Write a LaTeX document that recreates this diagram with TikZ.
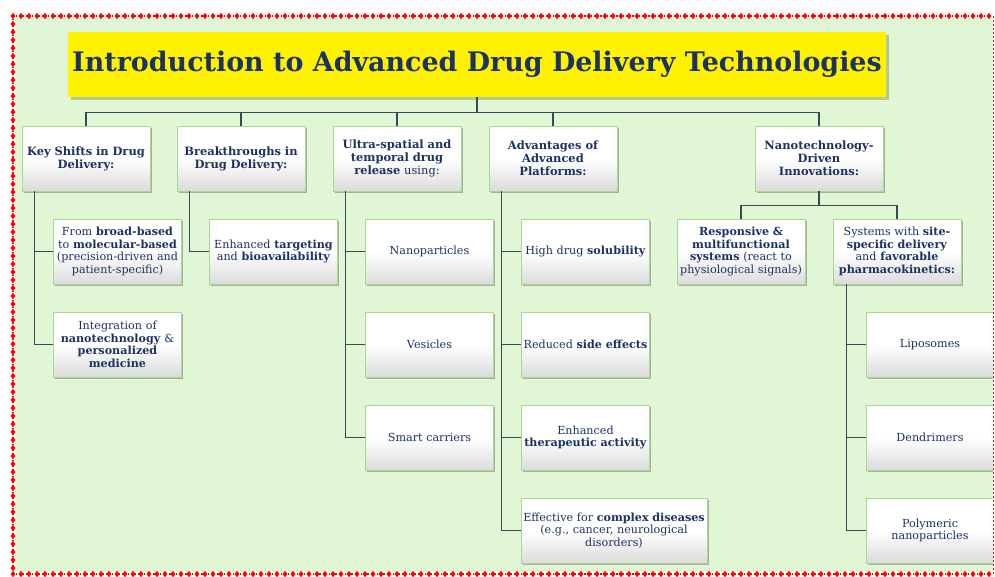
\documentclass[tikz,border=0pt]{standalone}
\usepackage{fontspec}
\setmainfont{DejaVu Serif}
\usetikzlibrary{shapes.geometric,shadows}
\definecolor{inkblue}{HTML}{1B3263}
\definecolor{leafgreen}{HTML}{E0F6D5}
\definecolor{edgegreen}{HTML}{A9D88F}
\definecolor{linkgray}{HTML}{34495A}
\definecolor{shadegreen}{HTML}{8A9A5B}
\tikzset{
  box/.style={draw=edgegreen,line width=0.6bp,top color=white,bottom color=black!14,middle color=white,
    minimum height=65bp,text width=124bp,align=center,inner sep=2bp,
    text=inkblue,font=\fontsize{11.2}{12.7}\selectfont,
    drop shadow={shadow xshift=1.5bp,shadow yshift=-1.5bp,fill=black!50,opacity=0.6}},
  widebox/.style={box,text width=182bp},
  head/.style={box,font=\bfseries\fontsize{11.5}{13}\selectfont},
  titlebox/.style={fill=yellow,minimum width=818bp,minimum height=65bp,text=inkblue,
    font=\bfseries\fontsize{27}{30}\selectfont,
    drop shadow={shadow xshift=2.5bp,shadow yshift=-2.5bp,fill=shadegreen}},
  link/.style={draw=linkgray,line width=1.1bp},
  diam/.style={diamond,fill=red,inner sep=0pt,minimum width=5bp,minimum height=6.5bp}
}
\begin{document}
\begin{tikzpicture}
\useasboundingbox (0,0) rectangle (995bp,-577bp);
\fill[white] (0,0) rectangle (995bp,-577bp);
\fill[leafgreen] (15bp,-18bp) rectangle (993bp,-572bp);

\node (title) at (477bp,-64.5bp)[titlebox] {Introduction to Advanced Drug Delivery Technologies};

\node (ks) at (86bp,-158.5bp)[head] {Key Shifts in Drug\\Delivery:};
\node (bt) at (241bp,-158.5bp)[head] {Breakthroughs in\\Drug Delivery:};
\node (us) at (397bp,-158.5bp)[head] {Ultra-spatial and\\temporal drug\\release \mdseries using:};
\node (ap) at (553bp,-158.5bp)[head] {Advantages of\\Advanced\\Platforms:};
\node (nt) at (819bp,-158.5bp)[head] {Nanotechnology-\\Driven\\Innovations:};

\node (ks1) at (117.5bp,-251.5bp)[box] {From \textbf{broad-based}\\to \textbf{molecular-based}\\(precision-driven and\\patient-specific)};
\node (ks2) at (117.5bp,-344.5bp)[box] {Integration of\\\textbf{nanotechnology} \&\\\textbf{personalized}\\\textbf{medicine}};

\node (bt1) at (273.5bp,-251.5bp)[box] {Enhanced \textbf{targeting}\\and \textbf{bioavailability}};

\node (us1) at (429.5bp,-251.5bp)[box] {Nanoparticles};
\node (us2) at (429.5bp,-344.5bp)[box] {Vesicles};
\node (us3) at (429.5bp,-437.5bp)[box] {Smart carriers};

\node (ap1) at (585.5bp,-251.5bp)[box] {High drug \textbf{solubility}};
\node (ap2) at (585.5bp,-344.5bp)[box] {Reduced \textbf{side effects}};
\node (ap3) at (585.5bp,-437.5bp)[box] {Enhanced\\\textbf{therapeutic activity}};
\node (ap4) at (614bp,-530.5bp)[widebox] {Effective for \textbf{complex diseases}\\(e.g., cancer, neurological\\disorders)};

\node (rs) at (741bp,-251.5bp)[box] {\textbf{Responsive \&}\\\textbf{multifunctional}\\\textbf{systems} (react to\\physiological signals)};
\node (sy) at (897bp,-251.5bp)[box] {Systems with \textbf{site-}\\\textbf{specific delivery}\\and \textbf{favorable}\\\textbf{pharmacokinetics:}};

\node (sy1) at (930bp,-344.5bp)[box] {Liposomes};
\node (sy2) at (930bp,-437.5bp)[box] {Dendrimers};
\node (sy3) at (930bp,-530.5bp)[box] {Polymeric\\nanoparticles};

\foreach \n in {ks,bt,us,ap,nt}
  \draw[link] (title.south) -- ++(0,-15bp) -| (\n.north);
\foreach \c in {ks1,ks2}
  \draw[link] ([xshift=13bp]ks.south west) |- (\c.west);
\draw[link] ([xshift=13bp]bt.south west) |- (bt1.west);
\foreach \c in {us1,us2,us3}
  \draw[link] ([xshift=13bp]us.south west) |- (\c.west);
\foreach \c in {ap1,ap2,ap3,ap4}
  \draw[link] ([xshift=13bp]ap.south west) |- (\c.west);
\foreach \c in {rs,sy}
  \draw[link] (nt.south) -- ++(0,-14bp) -| (\c.north);
\foreach \c in {sy1,sy2,sy3}
  \draw[link] ([xshift=14bp]sy.south west) |- (\c.west);

\fill[white] (993bp,0) rectangle (995bp,-577bp);
\draw[red,line width=1.2bp,dotted] (13bp,-16bp) -- (990bp,-16bp);
\draw[red,line width=1.2bp,dotted] (13bp,-574bp) -- (990bp,-574bp);
\draw[red,line width=1.2bp,dotted] (13bp,-16bp) -- (13bp,-574bp);
\draw[red,line width=1.6bp,dash pattern=on 1.6bp off 2.4bp] (993.5bp,-16bp) -- (993.5bp,-574bp);
\foreach \i in {0,...,122} {
  \node[diam] at (13bp+\i*8bp,-16bp) {};
  \node[diam] at (13bp+\i*8bp,-574bp) {};
}
\foreach \i in {1,...,69}
  \node[diam] at (13bp,-16bp-\i*8bp) {};
\end{tikzpicture}
\end{document}
